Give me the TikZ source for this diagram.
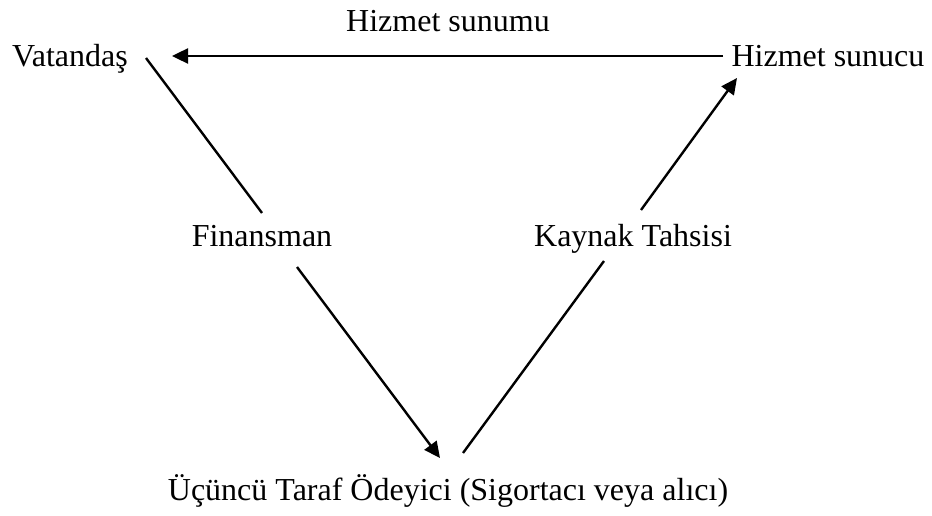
\documentclass[tikz,border=0pt]{standalone}
\usepackage{fontspec}
\setmainfont{Liberation Serif}
\usetikzlibrary{arrows.meta}
\begin{document}
\begin{tikzpicture}[x=1pt,y=-1pt,
  lbl/.style={anchor=base,inner sep=0pt,font=\fontsize{32}{38}\selectfont},
  conn/.style={line width=2.4pt,black},
  arr/.style={conn,-{Triangle[length=16pt,width=15pt]}}]
\useasboundingbox (0,0) rectangle (932,516);
\node[lbl] (top) at (448,32) {Hizmet sunumu};
\node[lbl] (vat) at (70,67) {Vatandaş};
\node[lbl] (hs) at (828,67) {Hizmet sunucu};
\node[lbl] (fin) at (262,246) {Finansman};
\node[lbl] (kt) at (633,246) {Kaynak Tahsisi};
\node[lbl] (uc) at (448,500) {Üçüncü Taraf Ödeyici (Sigortacı veya alıcı)};
\coordinate (a1) at (723,56);
\coordinate (a2) at (172,56);
\coordinate (b1) at (146,58);
\coordinate (b2) at (262,213);
\coordinate (c1) at (297,267);
\coordinate (c2) at (440,458);
\coordinate (d1) at (463,453);
\coordinate (d2) at (604,261);
\coordinate (e1) at (641,210);
\coordinate (e2) at (737,78);
\draw[arr] (a1) -- (a2);
\draw[conn] (b1) -- (b2);
\draw[arr] (c1) -- (c2);
\draw[conn] (d1) -- (d2);
\draw[arr] (e1) -- (e2);
\end{tikzpicture}
\end{document}
